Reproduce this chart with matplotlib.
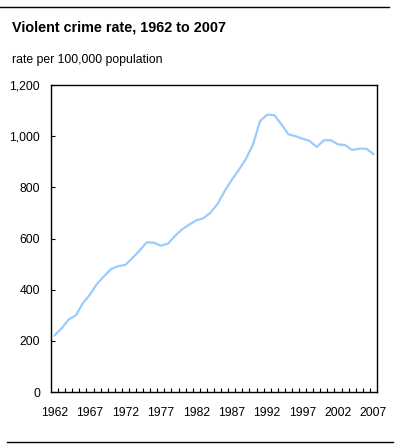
import matplotlib.pyplot as plt
import numpy as np
from matplotlib.ticker import FixedLocator, FuncFormatter

plt.rcParams['font.family'] = ['Liberation Sans', 'DejaVu Sans']

years = list(range(1962, 2008))
rate = [221, 249, 284, 299, 347, 381, 423, 453, 481, 492,
        497, 524, 553, 585, 584, 572, 580, 610, 636, 654,
        671, 679, 701, 735, 785, 829, 868, 911, 967, 1059,
        1084, 1082, 1047, 1007, 1000, 990, 981, 958, 984, 984,
        968, 965, 946, 951, 951, 930]
label_years = [1962, 1967, 1972, 1977, 1982, 1987, 1992, 1997, 2002, 2007]

fig = plt.figure(figsize=(3.99, 4.48), dpi=100)
ax = fig.add_axes([51 / 399, 56 / 448, 326 / 399, 307 / 448])

ax.plot(years, rate, color='#99ccff', linewidth=1.6, solid_joinstyle='round')

ax.set_xlim(1961.5, 2007.5)
ax.set_ylim(0, 1200)
ax.set_yticks(np.arange(0, 1201, 200))
ax.yaxis.set_major_formatter(FuncFormatter(lambda v, p: f"{int(v):,}"))
ax.set_xticks(label_years)
ax.xaxis.set_minor_locator(FixedLocator(np.arange(1962.5, 2007, 1.0)))
ax.tick_params(axis='x', which='major', length=0, pad=11, labelsize=8.7)
ax.tick_params(axis='x', which='minor', direction='in', length=3, width=0.8)
ax.tick_params(axis='y', direction='in', length=3, width=0.8, pad=8, labelsize=8.7)
for s in ax.spines.values():
    s.set_linewidth(1)

fig.text(12 / 399, 1 - 27 / 448, "Violent crime rate, 1962 to 2007",
         fontsize=10.4, fontweight='bold', va='center', ha='left')
fig.text(12 / 399, 1 - 60 / 448, "rate per 100,000 population",
         fontsize=8.8, va='center', ha='left')

fig.add_artist(plt.Line2D([0, 389 / 399], [1 - 7 / 448, 1 - 7 / 448],
                          color='black', linewidth=1))
fig.add_artist(plt.Line2D([7 / 399, 393 / 399], [1 - 442 / 448, 1 - 442 / 448],
                          color='black', linewidth=1))

fig.savefig("out.png", dpi=100)
